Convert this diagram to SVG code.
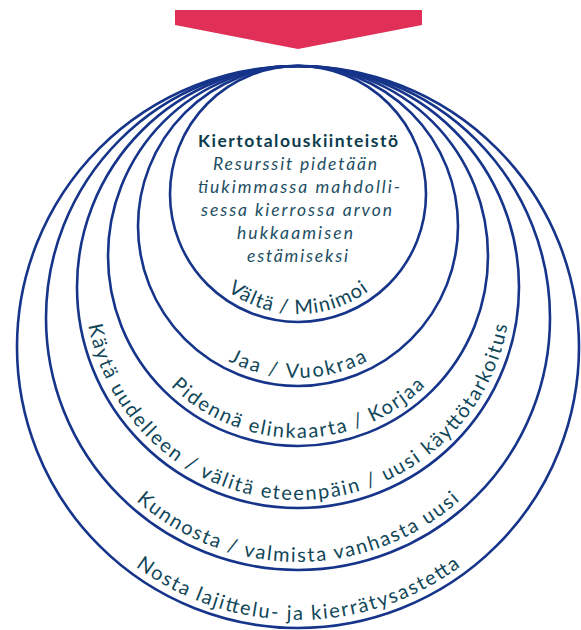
<svg xmlns="http://www.w3.org/2000/svg" width="581" height="630" viewBox="0 0 581 630">
<style>
.ring{fill:none;stroke:#15348A;stroke-width:2.6}
.lbl{font-family:Lato,"Open Sans","DejaVu Sans",sans-serif;font-size:20px;fill:#114759;text-anchor:middle}
.ttl{font-family:Lato,"Open Sans","DejaVu Sans",sans-serif;font-size:17.5px;font-weight:bold;fill:#0C3B4C;text-anchor:middle}
.dsc{font-family:Lato,"Open Sans","DejaVu Sans",sans-serif;font-size:17.5px;font-style:italic;fill:#1D4E63;text-anchor:middle}
</style>
<defs>
<path id="p1" d="M178,194 A120,120 0 0 0 418,194"/>
<path id="p2" d="M146,226 A152,152 0 0 0 450,226"/>
<path id="p3" d="M116,256 A182,182 0 0 0 480,256"/>
<path id="p4" d="M85,287 A213,213 0 0 0 511,287"/>
<path id="p5" d="M54,318 A244,244 0 0 0 542,318"/>
<path id="p6" d="M25,347 A273,273 0 0 0 571,347"/>
</defs>
<rect width="581" height="630" fill="#FFFFFF"/>
<g id="arrow">
<polygon points="175,10 422,10 422,25 298,49 175,25" fill="#E03058"/>
</g>
<g id="connectors"></g>
<g id="ring6">
<circle class="ring" cx="298" cy="347" r="281"/>
<text class="lbl"><textPath href="#p6" startOffset="50%" textLength="348" lengthAdjust="spacing">Nosta lajittelu- ja kierrätysastetta</textPath></text>
</g>
<g id="ring5">
<circle class="ring" cx="298" cy="318" r="252"/>
<text class="lbl"><textPath href="#p5" startOffset="50%" textLength="354" lengthAdjust="spacing">Kunnosta / valmista vanhasta uusi</textPath></text>
</g>
<g id="ring4">
<circle class="ring" cx="298" cy="287" r="221"/>
<text class="lbl"><textPath href="#p4" startOffset="50%" textLength="592" lengthAdjust="spacing">Käytä uudelleen / välitä eteenpäin / uusi käyttötarkoitus</textPath></text>
</g>
<g id="ring3">
<circle class="ring" cx="298" cy="256" r="190"/>
<text class="lbl"><textPath href="#p3" startOffset="50%" textLength="282" lengthAdjust="spacing">Pidennä elinkaarta / Korjaa</textPath></text>
</g>
<g id="ring2">
<circle class="ring" cx="298" cy="226" r="160"/>
<text class="lbl"><textPath href="#p2" startOffset="50%" textLength="145" lengthAdjust="spacing">Jaa / Vuokraa</textPath></text>
</g>
<g id="ring1">
<circle class="ring" cx="298" cy="194" r="128"/>
<text class="lbl"><textPath href="#p1" startOffset="50%" textLength="151" lengthAdjust="spacing">Vältä / Minimoi</textPath></text>
<text class="ttl" x="298" y="147" textLength="200" lengthAdjust="spacing">Kiertotalouskiinteistö</text>
<text class="dsc" x="295" y="170" textLength="164" lengthAdjust="spacing">Resurssit pidetään</text>
<text class="dsc" x="299" y="193" textLength="202" lengthAdjust="spacing">tiukimmassa mahdolli-</text>
<text class="dsc" x="296.5" y="216" textLength="191" lengthAdjust="spacing">sessa kierrossa arvon</text>
<text class="dsc" x="295" y="239" textLength="116" lengthAdjust="spacing">hukkaamisen</text>
<text class="dsc" x="297.5" y="262" textLength="101" lengthAdjust="spacing">estämiseksi</text>
</g>
</svg>
